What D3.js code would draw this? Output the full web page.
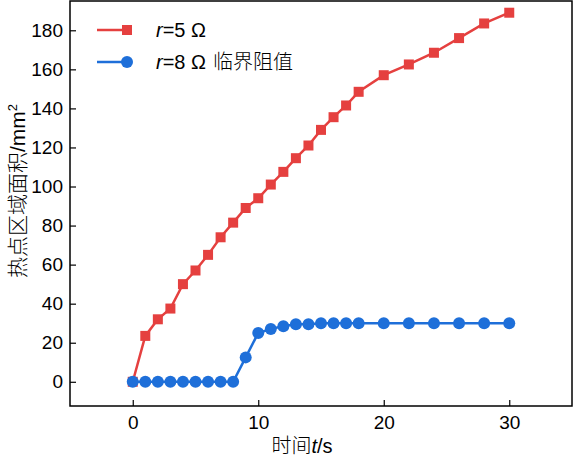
<!DOCTYPE html>
<html><head><meta charset="utf-8">
<script src="https://cdn.jsdelivr.net/npm/d3@7"></script>
<style>body{margin:0;background:#fff}svg{display:block}</style>
</head><body><svg id="c" width="575" height="461"></svg>
<script>
const timeR = [0,1,2,3,4,5,6,7,8,9,10,11,12,13,14,15,16,17,18,20,22,24,26,28,30];
const areaR5 = [0,23.5,32,37.5,50,57,65,74,81.5,89,94,101,107.5,114.5,121,129,135.5,141.5,148.5,157,162.5,168.5,176,183.5,189];
const timeR8 = [0,1,2,3,4,5,6,7,8,9,10,11,12,13,14,15,16,17,18,20,22,24,26,28,30];
const areaR8 = [0,0,0,0,0,0,0,0,0,12.5,25,27,28.5,29.5,29.5,30,30,30,30,30,30,30,30,30,30];
const xTicks = [0,10,20,30];
const yTicks = [0,20,40,60,80,100,120,140,160,180];

const svg = d3.select("#c");
const L=70,R=572,T=1,B=406;
const x = d3.scaleLinear().domain([-5,35]).range([L,R]);
const y = d3.scaleLinear().domain([-12.4,195]).range([B,T]);
const red="#e5403f", blue="#1e6fd9";
const font="'Liberation Sans', Arial, sans-serif";
const cjk="'Noto Sans CJK SC', sans-serif";

svg.append("rect").attr("x",L).attr("y",T).attr("width",R-L).attr("height",B-T)
  .attr("fill","none").attr("stroke","#000").attr("stroke-width",1.5);

const xa = svg.append("g").attr("transform",`translate(0,${B})`)
  .call(d3.axisBottom(x).tickValues(xTicks).tickSizeInner(-6).tickSizeOuter(0).tickPadding(10));
const ya = svg.append("g").attr("transform",`translate(${L},0)`)
  .call(d3.axisLeft(y).tickValues(yTicks).tickSizeInner(-6).tickSizeOuter(0).tickPadding(7));
[xa,ya].forEach(a=>{a.select(".domain").remove();
  a.selectAll("line").attr("stroke","#000").attr("stroke-width",1.2);
  a.selectAll("text").attr("font-family",font).attr("font-size",19).attr("fill","#000");});

function series(xs,ys,color,marker){
  const data = xs.map((d,i)=>[d,ys[i]]);
  svg.append("path").datum(data).attr("fill","none").attr("stroke",color).attr("stroke-width",2.5)
    .attr("d",d3.line().x(d=>x(d[0])).y(d=>y(d[1])));
  const g = svg.append("g");
  if(marker==="sq"){
    g.selectAll("rect").data(data).join("rect")
      .attr("x",d=>x(d[0])-5).attr("y",d=>y(d[1])-5).attr("width",10).attr("height",10).attr("fill",color);
  } else {
    g.selectAll("circle").data(data).join("circle")
      .attr("cx",d=>x(d[0])).attr("cy",d=>y(d[1])).attr("r",6).attr("fill",color);
  }
}
series(timeR,areaR5,red,"sq");
series(timeR8,areaR8,blue,"ci");

const lg = svg.append("g");
[[30,red,"sq","5 Ω"],[62,blue,"ci","8 Ω"]].forEach(([ly,c,m,t],i)=>{
  lg.append("line").attr("x1",97).attr("x2",127).attr("y1",ly).attr("y2",ly).attr("stroke",c).attr("stroke-width",2.5);
  if(m==="sq") lg.append("rect").attr("x",122).attr("y",ly-5).attr("width",10).attr("height",10).attr("fill",c);
  else lg.append("circle").attr("cx",127).attr("cy",ly).attr("r",6).attr("fill",c);
  const tx = lg.append("text").attr("x",156).attr("y",ly+7).attr("font-family",font).attr("font-size",20).attr("fill","#000");
  tx.append("tspan").attr("font-style","italic").text("r");
  tx.append("tspan").text("="+t);
  if(i===1) tx.append("tspan").attr("dx",7).attr("font-family",cjk).attr("font-weight",300).text("临界阻值");
});

const xl = svg.append("text").attr("x",302).attr("y",453).attr("text-anchor","middle")
  .attr("font-family",font).attr("font-size",20).attr("fill","#000");
xl.append("tspan").attr("font-family",cjk).attr("font-weight",300).text("时间");
xl.append("tspan").attr("font-style","italic").text("t");
xl.append("tspan").text("/s");

const yl = svg.append("text").attr("transform","translate(25,191) rotate(-90)").attr("text-anchor","middle")
  .attr("font-family",font).attr("font-size",21).attr("fill","#000");
yl.append("tspan").attr("font-family",cjk).attr("font-weight",300).text("热点区域面积");
yl.append("tspan").text("/mm");
yl.append("tspan").attr("font-size",13).attr("dy",-8).text("2");
</script></body></html>
